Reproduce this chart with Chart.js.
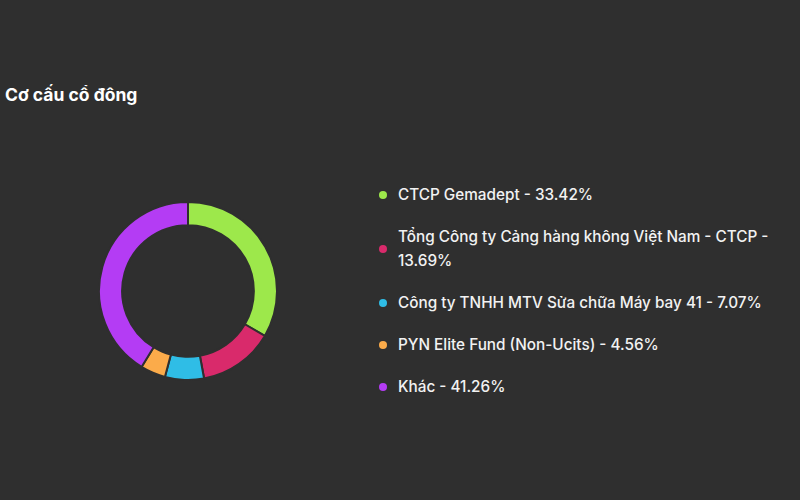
<!DOCTYPE html>
<html>
<head>
<meta charset="utf-8">
<script src="https://cdn.jsdelivr.net/npm/chart.js@4.4.1/dist/chart.umd.min.js"></script>
<style>
  html, body {
    margin: 0; padding: 0;
    width: 800px; height: 500px; overflow: hidden;
    background: #2f2f2f;
    font-family: Inter, "Noto Sans", sans-serif;
  }
  #title {
    position: absolute; left: 5px; top: 84px;
    color: #ffffff; font-weight: 700; font-size: 17.5px; line-height: 22px;
  }
  #pie-wrap {
    position: absolute; left: 98px; top: 201px; width: 180px; height: 180px;
  }
  #legend {
    position: absolute; left: 379px; top: 183px; width: 410px;
  }
  #legend ul { list-style: none; margin: 0; padding: 0; }
  #legend li {
    display: flex; align-items: center;
    margin: 0 0 18px 0;
  }
  #legend .dot {
    flex: 0 0 auto;
    width: 8px; height: 8px; border-radius: 50%;
    margin-right: 11px;
  }
  #legend .txt {
    color: #f2f2f2; font-size: 15.3px; font-weight: 500; line-height: 24px;
    max-width: 392px;
  }
</style>
</head>
<body>
<div id="title">Cơ cấu cổ đông</div>
<div id="pie-wrap"><canvas id="pie"></canvas></div>
<div id="legend"></div>

<script>
// Shareholder structure (percent of shares)
const holders = [
  'CTCP Gemadept',
  'Tổng Công ty Cảng hàng không Việt Nam - CTCP',
  'Công ty TNHH MTV Sửa chữa Máy bay 41',
  'PYN Elite Fund (Non-Ucits)',
  'Khác'
];
const shares = [33.42, 13.69, 7.07, 4.56, 41.26];
const sliceColors = ['#9de84b', '#d92a6b', '#2fbde6', '#fbab4a', '#b43cf4'];

const bg = '#2f2f2f';

// Builds the HTML legend from the chart's own legend items
const htmlLegend = {
  id: 'htmlLegend',
  afterUpdate(chart) {
    const box = document.getElementById('legend');
    box.innerHTML = '';
    const ul = document.createElement('ul');
    const items = chart.options.plugins.legend.labels.generateLabels(chart);
    items.forEach(item => {
      const li = document.createElement('li');
      const dot = document.createElement('span');
      dot.className = 'dot';
      dot.style.background = item.fillStyle;
      const txt = document.createElement('span');
      txt.className = 'txt';
      const v = chart.data.datasets[0].data[item.index];
      txt.textContent = item.text + ' - ' + v.toFixed(2) + '%';
      li.appendChild(dot);
      li.appendChild(txt);
      ul.appendChild(li);
    });
    box.appendChild(ul);
  }
};

new Chart(document.getElementById('pie'), {
  type: 'doughnut',
  data: {
    labels: holders,
    datasets: [{
      data: shares,
      backgroundColor: sliceColors,
      borderColor: bg,
      borderWidth: 2,
      hoverOffset: 0
    }]
  },
  options: {
    responsive: true,
    maintainAspectRatio: false,
    animation: false,
    cutout: '74%',
    layout: { padding: 0 },
    plugins: {
      legend: { display: false },
      tooltip: { enabled: false }
    }
  },
  plugins: [htmlLegend]
});
</script>
</body>
</html>
